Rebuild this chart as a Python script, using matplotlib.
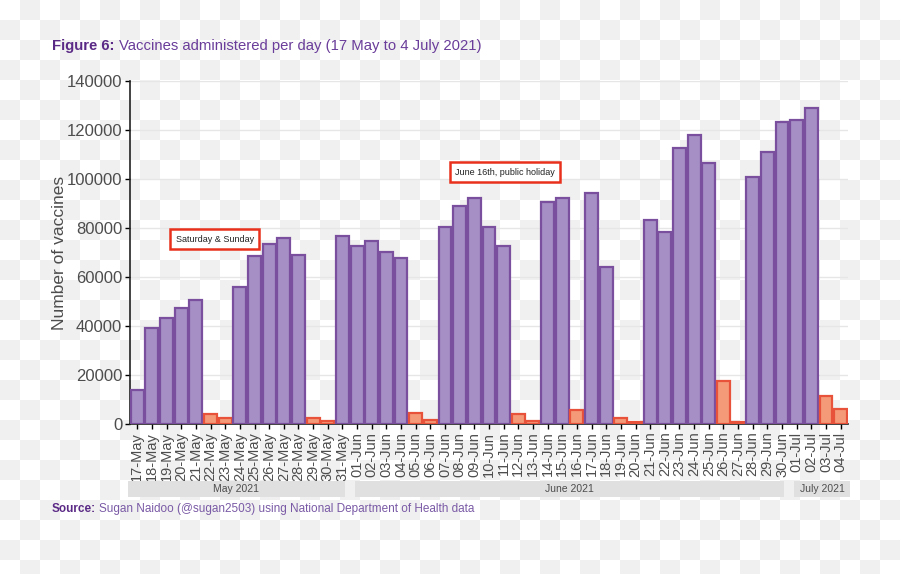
import numpy as np
import pandas as pd
import matplotlib
matplotlib.use("Agg")
from matplotlib import pyplot as plt
from matplotlib import transforms
from matplotlib.patches import Rectangle

plt.rcParams['font.family'] = ['Liberation Sans', 'DejaVu Sans']

# vaccines per day, 17 May - 4 July 2021
may_vals = [14000, 39000, 43400, 47300, 50600, 4000, 2300, 55800, 68700,
            73500, 76100, 69000, 2500, 1400, 76600]
jun_vals = [72700, 74600, 70300, 67600, 4500, 1600, 80600, 89000, 92100,
            80600, 72600, 4000, 1200, 90800, 92100, 5700, 94100, 64000,
            2500, 700, 83200, 78400, 112500, 117800, 106700, 17600, 700,
            101000, 111000, 123200]
jul_vals = [124100, 128800, 11500, 6100]
values = may_vals + jun_vals + jul_vals

dates = pd.date_range("2021-05-17", "2021-07-04", freq="D")
date_labels = [d.strftime("%d-%b") for d in dates]
holidays = [pd.Timestamp("2021-06-16")]
months = ["May 2021", "June 2021", "July 2021"]
month_counts = [len(may_vals), len(jun_vals), len(jul_vals)]

low_day = [(d.weekday() >= 5) or (d in holidays) for d in dates]

fig = plt.figure(figsize=(9, 5.74), dpi=100)
fig.patch.set_alpha(0)

# checkerboard (transparent background look)
h, w = 574, 900
yy, xx = np.mgrid[0:h, 0:w]
cb = ((yy // 20 + xx // 20) % 2).astype(float)
img = np.where(cb[..., None] > 0, 240 / 255, 1.0) * np.ones((h, w, 3))
fig.figimage(img, xo=0, yo=0, origin='upper', zorder=-10)

ax = fig.add_axes([0.1444, 0.2613, 0.7978, 0.5976])
ax.set_facecolor('none')

x = np.arange(len(values))
fills = ['#f59a78' if lo else '#a68fc5' for lo in low_day]
edges = ['#e8523a' if lo else '#7a4f9e' for lo in low_day]
ax.bar(x, values, width=0.88, color=fills, edgecolor=edges, linewidth=1.6, zorder=3)

ax.set_xlim(-0.5, len(values) - 0.5)
ax.set_ylim(0, 140000)
ax.set_yticks(np.arange(0, 140001, 20000))
ax.set_xticks(x)
ax.set_xticklabels(date_labels, rotation=90)
ax.tick_params(axis='x', labelsize=10.5, colors='black', labelcolor='#4d4d4d',
               length=3.5, width=1, pad=2)
ax.tick_params(axis='y', labelsize=12, colors='black', labelcolor='#4d4d4d',
               length=3.5, width=1, pad=2)
ax.yaxis.grid(True, color='#e6e6e6', linewidth=1, zorder=0)
ax.set_axisbelow(True)
for s in ['top', 'right']:
    ax.spines[s].set_visible(False)
for s in ['left', 'bottom']:
    ax.spines[s].set_color('#222222')
    ax.spines[s].set_linewidth(1.2)
ax.set_ylabel("Number of vaccines", fontsize=12.5, color='#4d4d4d', labelpad=0)

# annotations
box = dict(boxstyle='square,pad=0.6', facecolor='white', edgecolor='#e8301c', linewidth=1.8)
ax.text(5.3, 75800, "Saturday & Sunday", fontsize=6.5, ha='center', va='center_baseline',
        color='#222222', bbox=box, zorder=5)
ax.text(25.1, 103200, "June 16th, public holiday", fontsize=6.5, ha='center',
        va='center_baseline', color='#222222', bbox=box, zorder=5)

# month strips below axis
trans = transforms.blended_transform_factory(ax.transData, fig.transFigure)
start = 0
for k, (name, n) in enumerate(zip(months, month_counts)):
    end = start + n - 1
    left = start - 0.65 if k == 0 else start - 0.15
    right = end + 0.15 if k < len(months) - 1 else end + 0.65
    ax.add_patch(Rectangle((left, 1 - 497 / 574), right - left, 16 / 574,
                           transform=trans, facecolor='#e0e0e0', edgecolor='none',
                           clip_on=False, zorder=1))
    ax.text((left + right) / 2, 1 - 489 / 574, name, transform=trans, ha='center',
            va='center', fontsize=7.5, color='#4d4d4d')
    start = end + 1

# title and source (bold lead-in followed by normal text)
renderer = fig.canvas.get_renderer()


def lead_text(y, bold, rest, size, c1, c2):
    t = fig.text(52 / 900, y, bold, fontsize=size, fontweight='bold', color=c1, va='center')
    bb = t.get_window_extent(renderer)
    fig.text(bb.x1 / 900 + size * 0.28 / 900 * 100 / 72, y, rest, fontsize=size,
             color=c2, va='center')


lead_text(1 - 46 / 574, "Figure 6:", "Vaccines administered per day (17 May to 4 July 2021)",
          10.7, '#5b2a86', '#6a3d9a')
lead_text(1 - 509 / 574, "Source:", "Sugan Naidoo (@sugan2503) using National Department of Health data",
          8.5, '#5b2a86', '#7a5aa6')

fig.savefig("out.png", dpi=100)
